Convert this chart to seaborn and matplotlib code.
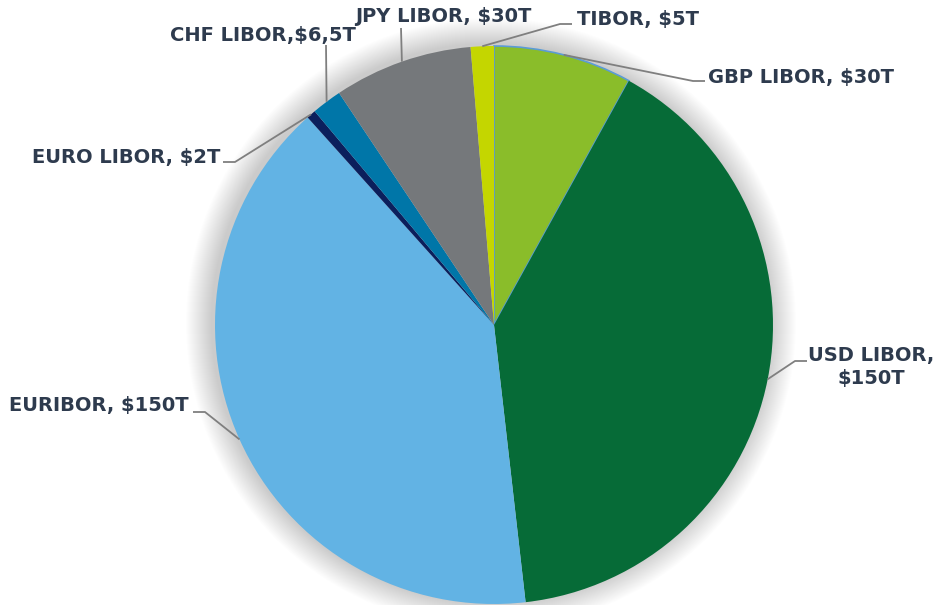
import numpy as np
import matplotlib
matplotlib.use("Agg")
import matplotlib.pyplot as plt
import seaborn as sns
from matplotlib.patches import Circle

sns.set_theme(style="white")
plt.rcParams['font.family'] = ['DejaVu Sans']

# Data (clockwise from 12 o'clock)
labels = ["GBP LIBOR, $30T", "USD LIBOR,\n$150T", "EURIBOR, $150T", "EURO LIBOR, $2T",
          "CHF LIBOR,$6,5T", "JPY LIBOR, $30T", "TIBOR, $5T"]
values = [30, 150, 150, 2, 6.5, 30, 5]
colors = ["#8ABD2A", "#066B37", "#62B3E4", "#0B1F5C", "#0076A8", "#75787B", "#C4D600"]

# label layout: (elbow x, elbow y, text anchor x, text y, ha) in pixel coordinates (y down)
label_layout = [
    (693, 81, 708, 77, "left"),
    (795, 361, 808, 367, "left"),
    (205, 412, 189, 406, "right"),
    (235, 162, 220, 157, "right"),
    (326, 45, 263, 36, "center"),
    (401, 28, 443, 17, "center"),
    (560, 24, 577, 20, "left"),
]

W, H = 935, 605
fig = plt.figure(figsize=(W / 100, H / 100), dpi=100)
ax = fig.add_axes([0, 0, 1, 1])

cx, cy, r = 494, H - 325, 279

# soft shadow / glow
for k in range(26, 0, -1):
    ax.add_patch(Circle((cx - 3, cy + 2), r + k, facecolor="black", edgecolor="none",
                        alpha=0.009, zorder=0))

wedges, _ = ax.pie(values, colors=colors, startangle=90, counterclock=False,
                   center=(cx, cy), radius=r, frame=True,
                   wedgeprops=dict(edgecolor="none", linewidth=0, zorder=2))
ax.set_xlim(0, W)
ax.set_ylim(0, H)
ax.set_aspect("equal")
ax.axis("off")
wedges[0].set_edgecolor("#5B9BD5")
wedges[0].set_linewidth(1.2)

total = sum(values)
cum = 0
text_color = "#2E3B4E"
line_color = "#7F7F7F"
for v, lab, (ex, ey, tx, ty, ha) in zip(values, labels, label_layout):
    mid = (cum + v / 2) / total * 360.0
    cum += v
    ang = np.deg2rad(90 - mid)
    ax_x = cx + r * np.cos(ang)
    ax_y = cy + r * np.sin(ang)
    ey_d = H - ey
    if ha == "left":
        xs = [ax_x, ex, ex + 12]
        ys = [ax_y, ey_d, ey_d]
    elif ha == "right":
        xs = [ax_x, ex, ex - 12]
        ys = [ax_y, ey_d, ey_d]
    else:
        xs = [ax_x, ex]
        ys = [ax_y, ey_d]
    ax.plot(xs, ys, color=line_color, lw=1.3, zorder=3, solid_capstyle="butt")
    ax.text(tx, H - ty, lab, ha=ha, va="center", fontsize=14, fontweight="bold",
            color=text_color, linespacing=1.3, multialignment="center")

fig.savefig("out.png", dpi=100, facecolor="white")
